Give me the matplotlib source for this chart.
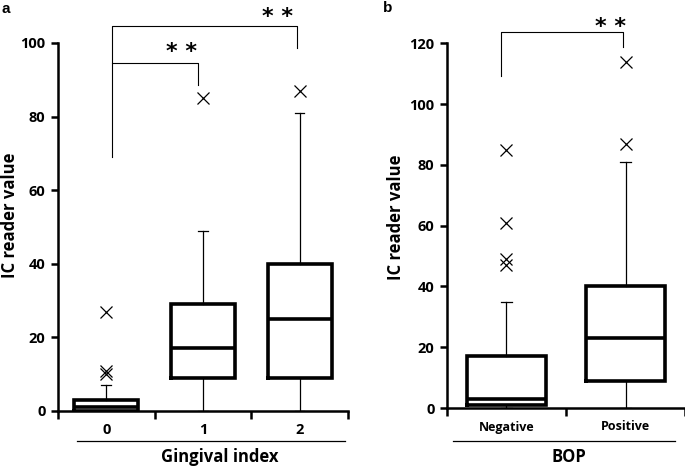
import matplotlib
matplotlib.use('Agg')
import matplotlib.pyplot as plt
from matplotlib.lines import Line2D

plt.rcParams['font.family'] = ['Open Sans', 'DejaVu Sans']
plt.rcParams['font.weight'] = 'bold'

# panel a: IC reader value by gingival index
gi_labels = ['0', '1', '2']
gi_q1 = [0, 9, 9]
gi_med = [1, 17, 25]
gi_q3 = [3, 29, 40]
gi_lo = [0, 0, 0]
gi_hi = [7, 49, 81]
gi_out = [[27, 11, 10], [85], [87]]

# panel b: IC reader value by BOP
bop_labels = ['Negative', 'Positive']
bop_q1 = [1, 9]
bop_med = [3, 23]
bop_q3 = [17, 40]
bop_lo = [0, 0]
bop_hi = [35, 81]
bop_out = [[85, 61, 49, 47], [114, 87]]

W, H = 685, 468


def px(x, y):
    return x / W, 1 - y / H


def panel(ax, labels, q1, med, q3, lo, hi, out, ymax, capw, lab_size):
    stats = []
    for i in range(len(labels)):
        stats.append(dict(q1=q1[i], med=med[i], q3=q3[i], whislo=lo[i],
                          whishi=hi[i], fliers=out[i]))
    pos = list(range(len(labels)))
    ax.bxp(stats, positions=pos, widths=0.66, capwidths=capw,
           boxprops=dict(lw=2.6, color='black', solid_joinstyle='miter'),
           medianprops=dict(lw=2.6, color='black'),
           whiskerprops=dict(lw=0.9, color='black'),
           capprops=dict(lw=0.9, color='black'),
           flierprops=dict(marker='x', markersize=9, markeredgecolor='black',
                           markeredgewidth=0.9, linestyle='none'))
    ax.set_xlim(-0.5, len(labels) - 0.5)
    ax.set_ylim(0, ymax)
    for s in ['top', 'right']:
        ax.spines[s].set_visible(False)
    for s in ['left', 'bottom']:
        ax.spines[s].set_linewidth(1.8)
    ax.set_xticks(pos)
    ax.set_xticklabels(labels, fontsize=lab_size, fontweight='bold')
    ax.set_xticks([p - 0.5 for p in pos] + [len(labels) - 0.5], minor=True)
    ax.tick_params(axis='x', which='major', length=0, pad=9)
    ax.tick_params(axis='x', which='minor', direction='out', length=6, width=1.8)
    ax.tick_params(axis='y', direction='out', length=5, width=1.8, labelsize=10.5, pad=4)
    for t in ax.get_yticklabels():
        t.set_fontweight('bold')


def bracket(ax, x0, x1, y0, ytop, y1, xs, ys):
    ax.plot([x0, x0, x1, x1], [y0, ytop, ytop, y1], color='black', lw=0.8,
            clip_on=False)
    ax.text(xs, ys, '* *', fontsize=16, fontweight='bold', ha='center', va='center',
            family='DejaVu Sans')


fig = plt.figure(figsize=(W / 100, H / 100), dpi=100)

l, b = px(58, 411)
r, t = px(348, 43)
ax1 = fig.add_axes([l, b, r - l, t - b])
panel(ax1, gi_labels, gi_q1, gi_med, gi_q3, gi_lo, gi_hi, gi_out, 100, 0.1, 10.5)
ax1.set_yticks(range(0, 101, 20))
bracket(ax1, 0.06, 0.95, 69, 94.6, 88.6, 0.78, 97.5)
bracket(ax1, 0.06, 1.97, 94.6, 104.7, 98.7, 1.77, 107)

l, b = px(447, 408)
r, t = px(685, 43.3)
ax2 = fig.add_axes([l, b, r - l, t - b])
panel(ax2, bop_labels, bop_q1, bop_med, bop_q3, bop_lo, bop_hi, bop_out, 120, 0.09, 9)
ax2.set_yticks(range(0, 121, 20))
bracket(ax2, -0.046, 0.976, 109.3, 123.6, 118.9, 0.87, 125.2)

# underlines and axis titles
for x0, x1 in [(77, 345), (453, 675)]:
    p0 = px(x0, 440.7)
    p1 = px(x1, 440.7)
    fig.add_artist(Line2D([p0[0], p1[0]], [p0[1], p1[1]], transform=fig.transFigure,
                          color='black', lw=0.9))

fig.text(*px(219.5, 457), 'Gingival index', ha='center', va='center',
         fontsize=12, fontweight='bold')
fig.text(*px(568.5, 457), 'BOP', ha='center', va='center', fontsize=12,
         fontweight='bold')
fig.text(*px(10, 215), 'IC reader value', rotation=90, ha='center', va='center',
         fontsize=12, fontweight='bold')
fig.text(*px(396, 217), 'IC reader value', rotation=90, ha='center', va='center',
         fontsize=12, fontweight='bold')
fig.text(*px(6, 9), 'a', ha='center', va='center', fontsize=11, fontweight='bold',
         family='Liberation Sans')
fig.text(*px(388, 8), 'b', ha='center', va='center', fontsize=11, fontweight='bold',
         family='Liberation Sans')

fig.savefig('out.png', dpi=100)
